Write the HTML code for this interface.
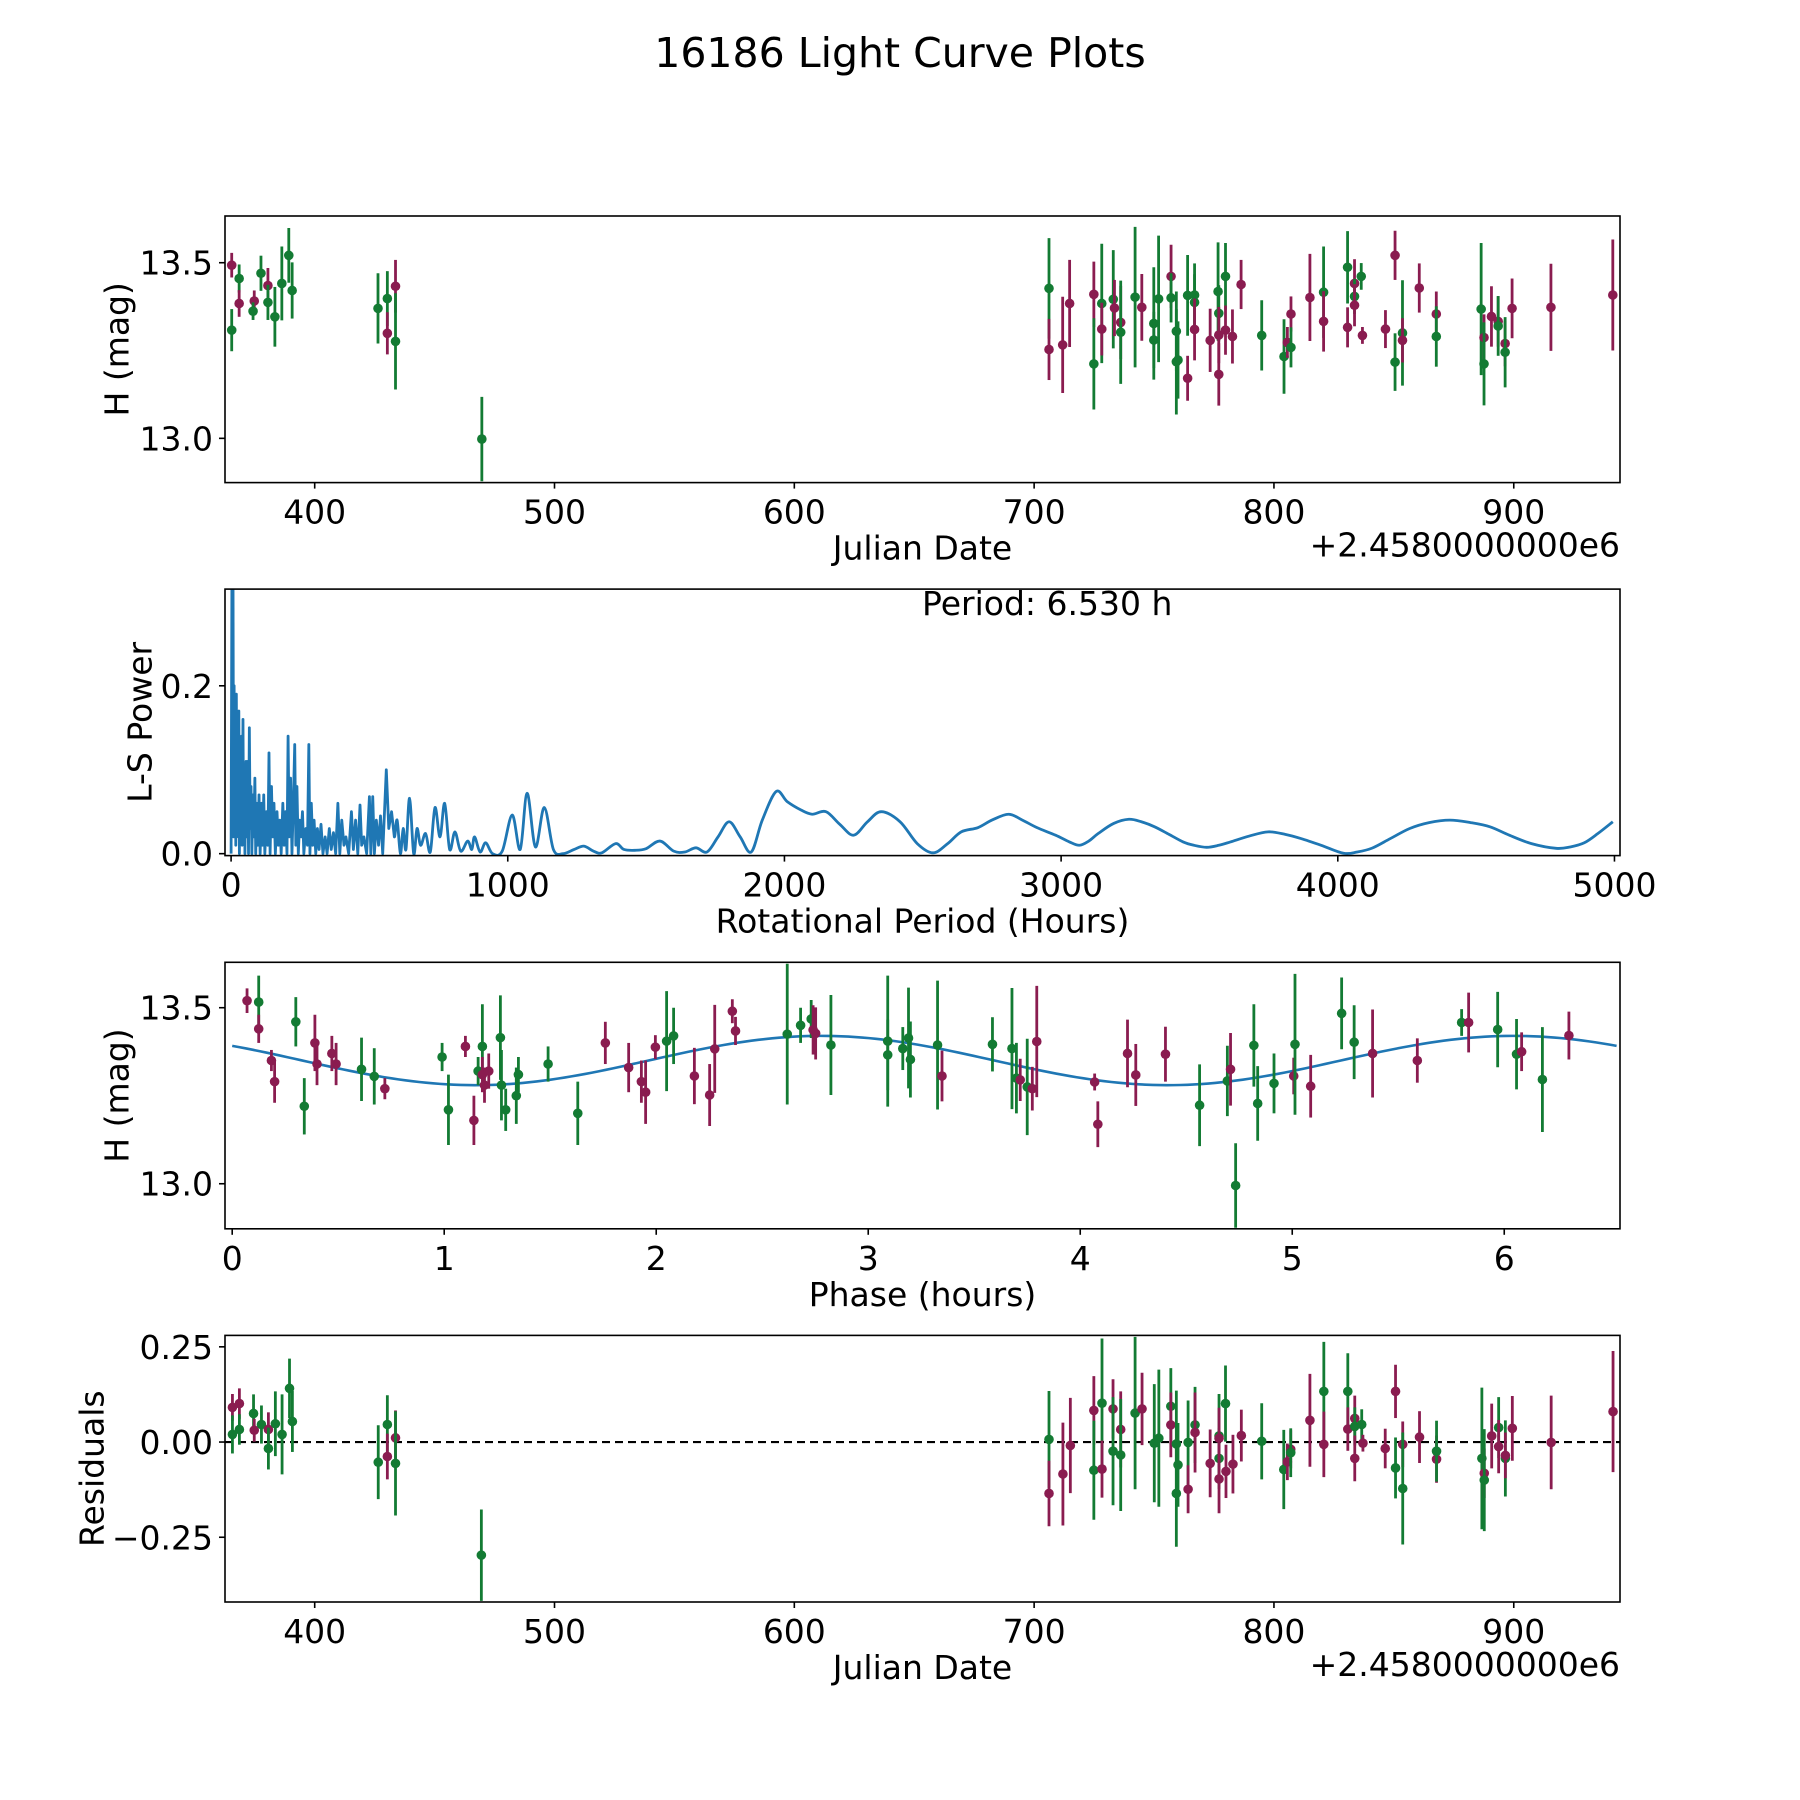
<!DOCTYPE html>
<html><head><meta charset="utf-8"><title>16186 Light Curve Plots</title>
<style>
html,body{margin:0;padding:0;background:#fff;}
svg{display:block;font-family:"DejaVu Sans","Liberation Sans",sans-serif;}
</style></head>
<body>
<svg id="fig" width="1800" height="1800" viewBox="0 0 1800 1800" xmlns="http://www.w3.org/2000/svg">
<rect width="1800" height="1800" fill="#fff"/>
<text x="900" y="67" text-anchor="middle" font-size="41">16186 Light Curve Plots</text>
</svg>
<script>
// ---------- top panel: magnitude vs Julian date ----------
const topT=[365.4,365.4,368.5,368.5,374.8,374.3,377.6,380.5,380.5,383.4,386.3,389.2,390.6,426.4,430.3,430.3,433.7,433.7,469.7,
706.2,706.2,711.9,714.8,724.9,724.9,728.2,728.2,733.0,733.5,736.1,736.1,742.1,744.9,749.9,749.9,751.9,757.1,757.1,759.3,759.3,760.0,
764.0,764.0,766.9,766.9,766.9,773.4,776.7,777.0,777.0,777.0,779.8,779.8,782.7,786.3,794.9,804.2,805.6,807.1,807.1,815.0,820.7,820.7,
830.7,830.7,833.6,833.6,833.6,836.4,836.9,846.5,850.5,850.5,853.6,853.6,860.6,867.7,867.7,886.4,887.6,887.6,890.7,893.5,893.5,896.4,896.4,899.3,915.5,941.3];
const topMag=[13.493,13.308,13.455,13.384,13.391,13.362,13.47,13.435,13.387,13.346,13.441,13.521,13.421,13.37,13.398,13.299,13.433,13.276,12.998,
13.427,13.253,13.266,13.384,13.41,13.212,13.384,13.311,13.396,13.371,13.33,13.302,13.402,13.373,13.327,13.28,13.397,13.461,13.4,13.305,13.218,13.223,
13.407,13.171,13.408,13.387,13.31,13.279,13.418,13.356,13.294,13.182,13.461,13.308,13.29,13.438,13.293,13.233,13.273,13.354,13.259,13.401,13.416,13.333,
13.487,13.316,13.441,13.404,13.379,13.461,13.293,13.311,13.521,13.217,13.3,13.279,13.428,13.354,13.29,13.368,13.287,13.212,13.347,13.333,13.32,13.27,13.245,13.37,13.373,13.408];
const topErr=[.035,.06,.04,.038,.03,.025,.05,.05,.05,.085,.105,.078,.08,.1,.078,.06,.075,.137,.12,
.143,.087,.137,.124,.093,.13,.17,.075,.14,.08,.104,.147,.2,.095,.16,.08,.18,.09,.07,.113,.15,.11,
.115,.064,.09,.08,.088,.09,.14,.08,.08,.089,.095,.07,.077,.07,.1,.106,.044,.05,.057,.124,.13,.086,
.103,.057,.069,.05,.06,.038,.024,.054,.07,.082,.15,.063,.07,.064,.086,.188,.066,.118,.086,.072,.085,.065,.1,.085,.124,.158];
const topBand=["m","g","g","m","m","g","g","m","g","g","g","g","g","g","g","m","m","g","g",
"g","m","m","m","m","g","g","m","g","m","m","g","g","m","g","g","g","m","g","g","g","g",
"g","m","g","g","m","m","g","g","m","m","g","m","m","m","g","g","m","m","g","m","g","m",
"g","m","m","g","m","g","m","m","m","g","g","m","m","m","g","g","m","g","m","m","g","m","g","m","m","m"];
const dateTicks=[400,500,600,700,800,900];
const magTicks=[13.0,13.5];
const magTickLabels=["13.0","13.5"];

// ---------- periodogram ----------
const lsPeriod=[0,3,5,7,9,11,13,15,17,19,21,24,26,28,30,33,35,38,40,43,45,48,50,54,57,60,63,66,69,72,75,79,82,86,89,93,97,101,105,110,114,118,122,128,133,137,141,146,150,155,160,166,171,176,181,187,192,197,202,206,210,215,220,225,230,234,238,243,248,253,258,263,270,276,281,285,290,295,300,306,312,318,325,332,340,347,355,362,370,378,386,393,400,408,415,425,435,442,450,458,466,472,480,490,500,505,512,518,525,533,540,548,561,570,580,590,600,612,622,632,645,660,672,685,703,720,737,755,772,790,809,830,855,870,880,900,920,945,980,1016,1045,1070,1100,1132,1165,1200,1240,1275,1310,1340,1390,1420,1460,1500,1550,1600,1640,1680,1720,1760,1800,1840,1880,1920,1970,2010,2060,2100,2150,2200,2250,2300,2350,2418,2480,2537,2590,2639,2699,2750,2810,2860,2913,2980,3030,3066,3100,3134,3190,3245,3290,3338,3390,3441,3480,3526,3570,3612,3680,3748,3810,3867,3940,4021,4070,4124,4190,4260,4330,4405,4480,4550,4620,4700,4789,4840,4891,4940,4994];
const lsPower=[0,0.33,0.05,0.33,0.02,0.2,0.03,0.19,0.01,0.19,0.03,0.14,0.02,0.17,0,0.12,0.02,0.14,0.01,0.16,0.03,0.1,0,0.11,0.02,0.11,0,0.15,0.03,0.08,0,0.07,0.02,0.09,0,0.06,0.01,0.07,0,0.06,0.01,0.07,0,0.05,0.01,0.12,0,0.08,0.02,0.06,0,0.05,0.01,0.04,0,0.06,0.01,0.05,0,0.14,0.02,0.09,0,0.06,0.13,0.01,0.08,0,0.04,0.02,0.05,0,0.03,0.01,0.13,0,0.06,0.01,0.04,0,0.03,0.005,0.035,0,0.02,0,0.03,0.005,0.025,0,0.06,0,0.04,0.01,0.02,0,0.05,0.005,0.04,0,0.058,0.01,0.02,0,0.068,0,0.068,0,0.04,0.01,0.045,0,0.1,0.03,0.05,0.02,0.04,0,0.03,0.005,0.066,0,0.03,0.01,0.024,0.002,0.055,0.02,0.06,0.005,0.026,0.003,0.015,0.005,0.02,0.002,0.013,0,0.003,0.046,0.005,0.072,0.008,0.055,0.005,0,0.005,0.009,0.003,0.001,0.012,0.005,0.004,0.006,0.015,0.003,0.002,0.007,0.002,0.02,0.038,0.02,0.002,0.04,0.074,0.062,0.052,0.047,0.05,0.035,0.022,0.038,0.05,0.038,0.012,0.001,0.012,0.026,0.031,0.04,0.047,0.04,0.031,0.022,0.014,0.01,0.015,0.024,0.036,0.041,0.038,0.032,0.023,0.014,0.01,0.0076,0.01,0.014,0.021,0.026,0.023,0.018,0.01,0.0005,0.002,0.0066,0.018,0.03,0.037,0.04,0.037,0.032,0.022,0.012,0.0064,0.008,0.013,0.024,0.038];
const periodTicks=[0,1000,2000,3000,4000,5000];
const powerTicks=[0.0,0.2];
const powerTickLabels=["0.0","0.2"];

// ---------- phase-folded panel ----------
const phaseVal=[0.07,0.125,0.125,0.185,0.2,0.3,0.34,0.39,0.40,0.47,0.49,0.61,0.67,0.72,0.99,1.02,1.10,1.14,1.16,1.18,1.18,1.19,1.21,1.265,1.27,1.29,1.34,1.35,1.49,1.63,1.76,1.87,1.93,1.95,
1.996,2.049,2.082,2.18,2.252,2.276,2.359,2.374,2.618,2.681,2.731,2.74,2.752,2.824,3.092,3.092,3.163,3.19,3.199,3.327,3.348,3.586,3.678,3.699,3.717,3.75,3.774,3.795,
4.068,4.083,4.223,4.262,4.402,4.563,4.694,4.709,4.733,4.819,4.837,4.914,5.007,5.013,5.087,5.233,5.292,5.379,5.59,5.799,5.832,5.969,6.058,6.082,6.18,6.305];
const phaseMag=[13.52,13.516,13.44,13.35,13.29,13.46,13.22,13.40,13.34,13.37,13.34,13.325,13.305,13.27,13.36,13.21,13.39,13.18,13.32,13.39,13.31,13.28,13.32,13.415,13.28,13.21,13.25,13.31,13.34,13.20,13.40,13.33,13.29,13.26,
13.388,13.405,13.42,13.306,13.252,13.383,13.49,13.434,13.425,13.45,13.468,13.437,13.427,13.394,13.405,13.366,13.384,13.414,13.353,13.394,13.306,13.396,13.384,13.3,13.295,13.275,13.27,13.404,
13.289,13.169,13.37,13.309,13.368,13.223,13.292,13.325,12.995,13.393,13.228,13.285,13.306,13.396,13.277,13.484,13.402,13.37,13.35,13.458,13.458,13.438,13.368,13.375,13.296,13.421];
const phaseErr=[.035,.075,.04,.03,.06,.07,.08,.08,.06,.05,.06,.09,.08,.03,.04,.1,.03,.07,.04,.12,.05,.05,.05,.12,.1,.06,.08,.05,.05,.09,.06,.07,.06,.09,
.034,.142,.08,.08,.088,.125,.034,.04,.2,.05,.054,.07,.074,.142,.186,.1,.061,.143,.108,.183,.072,.077,.172,.1,.06,.137,.062,.158,
.024,.065,.096,.088,.078,.116,.1,.103,.12,.117,.106,.085,.052,.2,.089,.102,.105,.125,.063,.038,.085,.107,.1,.055,.149,.068];
const phaseBand=["m","g","m","m","m","g","g","m","m","m","m","g","g","m","g","g","m","m","g","g","m","m","m","g","g","g","g","g","g","g","m","m","m","m",
"m","g","g","m","m","m","m","m","g","g","g","m","m","g","g","g","g","g","g","g","m","g","g","g","m","g","m","m",
"m","m","m","m","m","g","g","m","g","g","g","g","m","g","m","g","g","m","m","g","m","g","g","m","g","m"];
const phaseTicks=[0,1,2,3,4,5,6];
// fitted model parameters (mean mag, amplitude, half-period, phase of maximum)
const fitParams=[13.35,0.07,3.265,2.78];

// ---------- residuals ----------
const resT=[365.7,365.7,368.6,368.6,374.5,374.8,377.8,380.7,380.7,383.6,386.4,389.5,390.7,426.5,430.3,430.3,433.7,433.7,469.5,
706.2,706.2,712,715.1,724.9,724.9,728.3,728.3,732.9,732.9,736.1,736.1,742.1,745,750.1,752,757,757,759.3,759.3,760,764.2,764.2,767.1,767.1,
773.4,777.1,777.1,777.1,777.1,779.8,780,782.9,786.4,794.9,804.1,805.6,807,807,815,820.8,820.8,830.8,830.8,833.7,833.7,833.7,836.6,837.1,
846.4,850.7,850.7,853.7,853.7,860.7,867.8,867.8,886.7,887.7,887.7,890.8,893.7,893.7,896.5,896.5,899.4,915.6,941.4];
const resVal=[0.091,0.02,0.101,0.033,0.075,0.031,0.046,0.033,-0.017,0.048,0.02,0.141,0.054,-0.053,0.046,-0.038,0.011,-0.056,-0.297,
0.007,-0.135,-0.084,-0.009,0.083,-0.074,0.102,-0.071,0.087,-0.024,0.033,-0.034,0.076,0.087,-0.003,0.01,0.094,0.045,-0.005,-0.135,-0.06,-0.001,-0.124,0.045,0.025,
-0.056,0.016,-0.043,-0.097,0.01,0.101,-0.077,-0.058,0.017,0.002,-0.072,-0.052,-0.019,-0.028,0.057,0.133,-0.006,0.133,0.034,0.062,0.041,-0.043,0.046,-0.003,
-0.017,0.133,-0.068,-0.006,-0.122,0.013,-0.045,-0.024,-0.043,-0.082,-0.1,0.016,0.038,-0.012,-0.043,-0.035,0.036,-0.001,0.08];
const resErr=[.035,.05,.04,.04,.05,.03,.05,.045,.055,.085,.105,.078,.08,.097,.077,.06,.072,.137,.12,
.127,.086,.135,.125,.09,.13,.17,.075,.078,.142,.1,.147,.2,.095,.155,.18,.1,.085,.14,.14,.11,.11,.063,.1,.105,
.089,.11,.08,.09,.08,.1,.07,.077,.068,.1,.104,.048,.05,.064,.122,.13,.086,.1,.057,.06,.05,.06,.04,.022,
.052,.07,.08,.06,.147,.068,.062,.08,.186,.065,.134,.085,.08,.07,.1,.06,.085,.123,.159];
const resBand=["m","g","m","g","g","m","g","m","g","g","g","g","g","g","g","m","m","g","g",
"g","m","m","m","m","g","g","m","m","g","m","g","g","m","g","g","g","m","g","g","g","g","m","g","m",
"m","g","g","m","m","g","m","m","m","g","g","m","m","g","m","g","m","g","m","m","g","m","g","m",
"m","m","g","m","g","m","m","g","g","m","g","m","g","m","g","m","m","m","m"];
const resTicks=[-0.25,0,0.25];
const resTickLabels=["\u22120.25","0.00","0.25"];

// ---------- drawing ----------
const NS="http://www.w3.org/2000/svg";
const svg=document.getElementById("fig");
const COL={g:"#137b33",m:"#8a1c50"};
const FS=33;
function mk(tag,attrs,parent){const e=document.createElementNS(NS,tag);for(const k in attrs)e.setAttribute(k,attrs[k]);(parent||svg).appendChild(e);return e;}
function scale(d0,d1,p0,p1){return v=>p0+(v-d0)/(d1-d0)*(p1-p0);}

function makeAxes(name,y0,y1,xlim,ylim){
  const g=mk("g",{});
  
  
  const sx=scale(xlim[0],xlim[1],225,1620), sy=scale(ylim[0],ylim[1],y1,y0);
  const clip=mk("clipPath",{id:"clip-"+name},g);
  mk("rect",{x:225,y:y0,width:1395,height:y1-y0},clip);
  const plot=mk("g",{"clip-path":"url(#clip-"+name+")"},g);
  return {g,plot,sx,sy,y0,y1};
}
function frame(ax){
  const r=mk("rect",{x:225,y:ax.y0,width:1395,height:ax.y1-ax.y0,fill:"none",stroke:"#000","stroke-width":1.6},ax.g);
  
  
}
function xTicks(ax,ticks,labels){
  ticks.forEach((v,i)=>{
    const x=ax.sx(v);
    mk("line",{x1:x,x2:x,y1:ax.y1,y2:ax.y1+6,stroke:"#000","stroke-width":1.6},ax.g);
    const t=mk("text",{x:x,y:ax.y1+41,"text-anchor":"middle","font-size":FS},ax.g);
    t.textContent=labels?labels[i]:String(v);
    
    
  });
}
function yTicks(ax,ticks,labels){
  ticks.forEach((v,i)=>{
    const y=ax.sy(v);
    mk("line",{x1:219,x2:225,y1:y,y2:y,stroke:"#000","stroke-width":1.6},ax.g);
    const t=mk("text",{x:213,y:y+12,"text-anchor":"end","font-size":FS},ax.g);
    t.textContent=labels[i];
    
    
  });
}
function xLabel(ax,txt,name){
  const t=mk("text",{x:922.5,y:ax.y1+77,"text-anchor":"middle","font-size":FS},ax.g);
  t.textContent=txt;
  
  
}
function yLabel(ax,txt,cx,name){
  const cy=(ax.y0+ax.y1)/2;
  const t=mk("text",{x:cx,y:cy,"text-anchor":"middle","dominant-baseline":"central","font-size":FS,transform:"rotate(-90 "+cx+" "+cy+")"},ax.g);
  t.textContent=txt;
  
  
}
function offsetText(ax){
  const t=mk("text",{x:1620,y:ax.y1+74,"text-anchor":"end","font-size":FS},ax.g);
  t.textContent="+2.4580000000e6";
  
  
}
function errPoints(ax,xs,ys,es,bs){
  for(let i=0;i<xs.length;i++){
    const x=ax.sx(xs[i]),c=COL[bs[i]];
    const l=mk("line",{x1:x,x2:x,y1:ax.sy(ys[i]-es[i]),y2:ax.sy(ys[i]+es[i]),stroke:c,"stroke-width":2.8},ax.plot);
    
    
    const p=mk("circle",{cx:x,cy:ax.sy(ys[i]),r:4.8,fill:c},ax.plot);
    
    
  }
}

// Panel 1
const a1=makeAxes("light-curve-panel",216,482.6,[362.6,944.3],[12.874,13.633]);
errPoints(a1,topT,topMag,topErr,topBand);
frame(a1);xTicks(a1,dateTicks);yTicks(a1,magTicks,magTickLabels);
xLabel(a1,"Julian Date","x-axis-title");offsetText(a1);yLabel(a1,"H (mag)",117,"y-axis-title");

// Panel 2
const a2=makeAxes("periodogram-panel",589.1,855.6,[-22,5020],[-0.0023,0.3152]);
{
  const px=lsPeriod.map(a2.sx), py=lsPower.map(a2.sy);
  let d="M"+px[0].toFixed(2)+","+py[0].toFixed(2);
  for(let i=1;i<px.length;i++){
    if(lsPeriod[i]<600){d+="L"+px[i].toFixed(2)+","+py[i].toFixed(2);continue;}
    const i0=Math.max(0,i-2),i3=Math.min(px.length-1,i+1);
    const c1x=px[i-1]+(px[i]-px[i0])/6,c1y=py[i-1]+(py[i]-py[i0])/6;
    const c2x=px[i]-(px[i3]-px[i-1])/6,c2y=py[i]-(py[i3]-py[i-1])/6;
    d+="C"+c1x.toFixed(2)+","+c1y.toFixed(2)+" "+c2x.toFixed(2)+","+c2y.toFixed(2)+" "+px[i].toFixed(2)+","+py[i].toFixed(2);
  }
  const p=mk("path",{d:d,fill:"none",stroke:"#1f77b4","stroke-width":2.8,"stroke-linejoin":"round"},a2.plot);
  
  
}
frame(a2);xTicks(a2,periodTicks);yTicks(a2,powerTicks,powerTickLabels);
xLabel(a2,"Rotational Period (Hours)","x-axis-title");yLabel(a2,"L-S Power",140,"y-axis-title");
{
  const t=mk("text",{x:922,y:615,"font-size":FS},a2.g);
  t.textContent="Period: 6.530 h";
  
  
}

// Panel 3
const a3=makeAxes("phase-panel",962.3,1228.8,[-0.034,6.546],[12.872,13.629]);
{
  let d="";const n=200,P=6.53;
  for(let i=0;i<=n;i++){const ph=P*i/n;const m=fitParams[0]+fitParams[1]*Math.cos(2*Math.PI*(ph-fitParams[3])/fitParams[2]);
    d+=(i?"L":"M")+a3.sx(ph).toFixed(2)+","+a3.sy(m).toFixed(2);}
  const p=mk("path",{d:d,fill:"none",stroke:"#1f77b4","stroke-width":2.6},a3.plot);
  
  
}
errPoints(a3,phaseVal,phaseMag,phaseErr,phaseBand);
frame(a3);xTicks(a3,phaseTicks);yTicks(a3,magTicks,magTickLabels);
xLabel(a3,"Phase (hours)","x-axis-title");yLabel(a3,"H (mag)",117,"y-axis-title");

// Panel 4
const a4=makeAxes("residuals-panel",1335.4,1602,[362.6,944.3],[-0.42,0.28]);
{
  const y=a4.sy(0);
  const l=mk("line",{x1:225,x2:1620,y1:y,y2:y,stroke:"#000","stroke-width":2.2,"stroke-dasharray":"8,5"},a4.plot);
  
  
}
errPoints(a4,resT,resVal,resErr,resBand);
frame(a4);xTicks(a4,dateTicks);yTicks(a4,resTicks,resTickLabels);
xLabel(a4,"Julian Date","x-axis-title");offsetText(a4);yLabel(a4,"Residuals",92,"y-axis-title");
</script>
</body></html>
